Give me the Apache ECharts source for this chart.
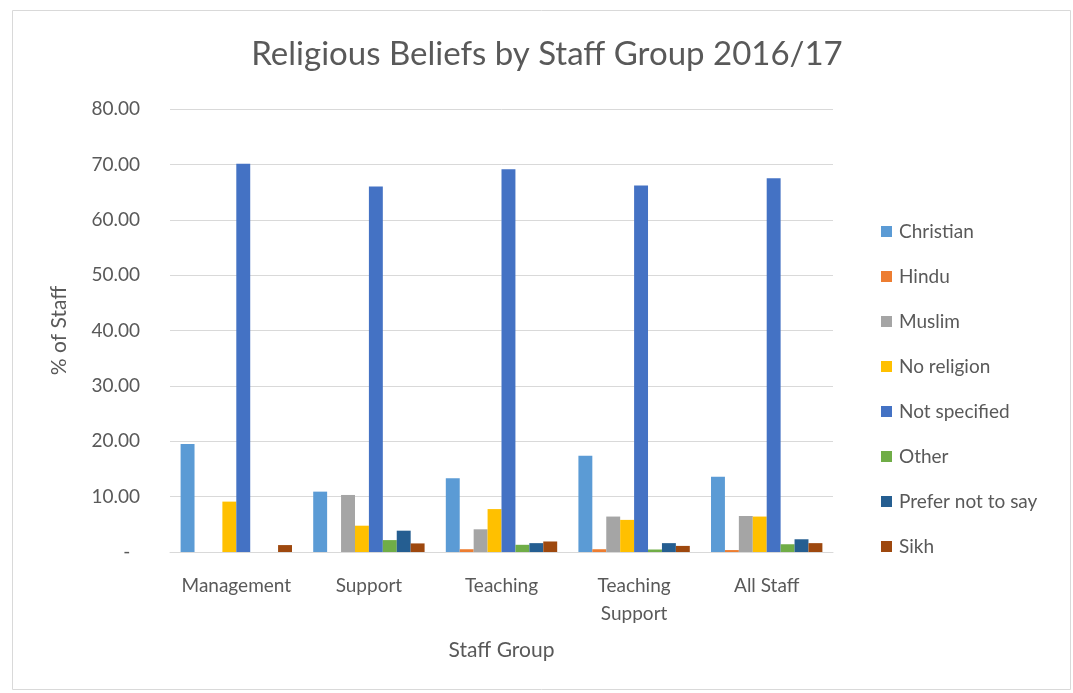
<!DOCTYPE html>
<html>
<head>
<meta charset="utf-8">
<script src="https://cdn.jsdelivr.net/npm/echarts@6/dist/echarts.min.js"></script>
<style>
  html, body { margin: 0; padding: 0; background: #fff; }
  #chart { width: 1073px; height: 693px; }
</style>
</head>
<body>
<div id="chart"></div>
<script>
// staff groups along x
const groups = ['Management', 'Support', 'Teaching', 'Teaching\nSupport', 'All Staff'];
const beliefs = ['Christian', 'Hindu', 'Muslim', 'No religion', 'Not specified', 'Other', 'Prefer not to say', 'Sikh'];
const colors = ['#5B9BD5', '#ED7D31', '#A5A5A5', '#FFC000', '#4472C4', '#70AD47', '#255E91', '#9E480E'];

// % of staff per belief, one value per group
const christian    = [19.5, 10.9, 13.3, 17.4, 13.6];
const hindu        = [0, 0, 0.5, 0.5, 0.35];
const muslim       = [0, 10.3, 4.1, 6.4, 6.5];
const noReligion   = [9.1, 4.75, 7.75, 5.8, 6.4];
const notSpecified = [70.1, 66.0, 69.1, 66.2, 67.5];
const other        = [0, 2.15, 1.3, 0.45, 1.4];
const preferNot    = [0, 3.85, 1.6, 1.6, 2.3];
const sikh         = [1.25, 1.55, 1.9, 1.1, 1.6];

const values = [christian, hindu, muslim, noReligion, notSpecified, other, preferNot, sikh];
const font = 'Lato';
const grey = '#595959';

let series = beliefs.map((name, i) => ({
    type: 'bar',
    name: name,
    data: values[i],
    barGap: '0%',
    barCategoryGap: '16%',
    itemStyle: { color: colors[i] }
}));

let chart = echarts.init(document.getElementById('chart'));
chart.setOption({
    animation: false,
    textStyle: { fontFamily: font },
    graphic: [{
        type: 'rect',
        shape: { x: 12.5, y: 10.5, width: 1058, height: 679 },
        style: { fill: 'none', stroke: '#d9d9d9', lineWidth: 1 },
        silent: true
    }],
    title: {
        text: 'Religious Beliefs by Staff Group 2016/17',
        left: 542,
        textAlign: 'center',
        top: 33,
        textStyle: { fontFamily: font, fontSize: 33, fontWeight: 'normal', color: grey }
    },
    legend: {
        orient: 'vertical',
        left: 876,
        top: 217,
        itemWidth: 11,
        itemHeight: 11,
        itemGap: 26,
        icon: 'rect',
        textStyle: { fontFamily: font, fontSize: 19, color: grey, padding: [0, 0, 0, 2] }
    },
    grid: { left: 170, right: 240, top: 109, bottom: 141 },
    xAxis: {
        type: 'category',
        data: groups,
        name: 'Staff Group',
        nameLocation: 'middle',
        nameGap: 88,
        nameTextStyle: { fontFamily: font, fontSize: 21, color: grey },
        axisLine: { lineStyle: { color: '#d9d9d9', width: 1 } },
        axisTick: { show: false },
        axisLabel: { interval: 0, fontFamily: font, fontSize: 19, color: grey, margin: 20, lineHeight: 28 }
    },
    yAxis: {
        type: 'value',
        min: 0,
        max: 80,
        interval: 10,
        name: '% of Staff',
        nameLocation: 'middle',
        nameGap: 100,
        nameRotate: 90,
        nameTextStyle: { fontFamily: font, fontSize: 21, color: grey },
        axisLine: { show: false },
        axisTick: { show: false },
        splitLine: { lineStyle: { color: '#d9d9d9', width: 1 } },
        axisLabel: {
            fontFamily: font, fontSize: 19, color: grey, margin: 30,
            formatter: v => v === 0 ? '-  ' : v.toFixed(2)
        }
    },
    series: series
});
</script>
</body>
</html>
